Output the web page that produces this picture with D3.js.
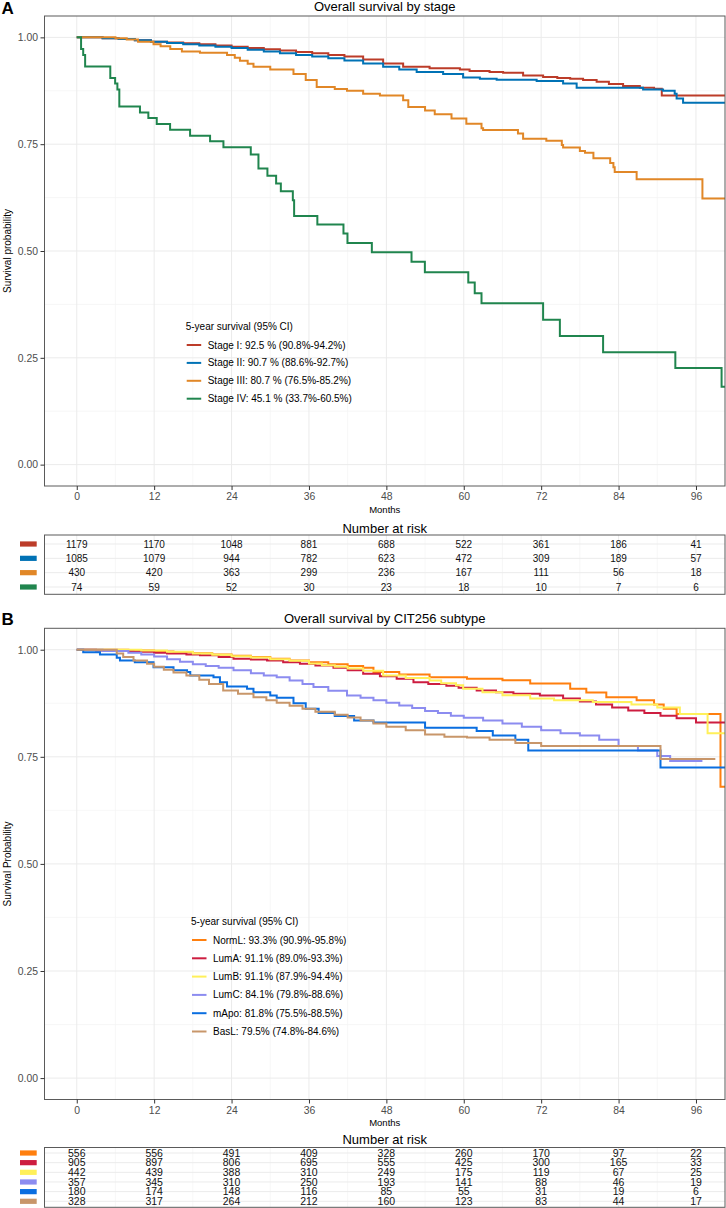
<!DOCTYPE html>
<html><head><meta charset="utf-8">
<script src="https://cdn.jsdelivr.net/npm/d3@7"></script>
<style>
body{margin:0;background:#fff}
svg{display:block}
text{font-family:"Liberation Sans",Arial,Helvetica,sans-serif}
</style>
</head><body>
<svg id="c" width="726" height="1208"></svg>
<script>
// ---------------- DATA ----------------
const monthTicks = [0, 12, 24, 36, 48, 60, 72, 84, 96];
const survTicks = [0, 0.25, 0.5, 0.75, 1];

// Panel A: stage
const stageNames = ["Stage I", "Stage II", "Stage III", "Stage IV"];
const stageColors = ["#BC3C29", "#0072B5", "#E18727", "#20854E"];
const stageLegend = ["Stage I: 92.5 % (90.8%-94.2%)", "Stage II: 90.7 % (88.6%-92.7%)",
                     "Stage III: 80.7 % (76.5%-85.2%)", "Stage IV: 45.1 % (33.7%-60.5%)"];
const stageI_time = [0, 4, 6.5, 9, 11.5, 14, 16.5, 19, 21.5, 24, 26.5, 29, 31.5, 34, 36.5, 39, 41.5, 44.4, 47.5, 50.6, 54.7, 59.4, 60.9, 64, 66.1, 69.2, 72.3, 74.5, 76.5, 78.5, 80.6, 82.5, 84.7, 87.3, 89.5, 90.7];
const stageI_surv = [1, 0.998, 0.996, 0.993, 0.99, 0.988, 0.986, 0.984, 0.981, 0.978, 0.975, 0.972, 0.969, 0.966, 0.963, 0.959, 0.955, 0.948, 0.939, 0.931, 0.928, 0.925, 0.921, 0.919, 0.917, 0.911, 0.907, 0.905, 0.903, 0.9, 0.896, 0.891, 0.886, 0.882, 0.88, 0.864];
const stageII_time = [0, 4, 6.5, 9, 11.5, 14, 16.5, 19, 21.5, 24, 26.5, 29, 31.5, 34, 36.5, 39, 41.5, 44.4, 47.5, 50, 52.7, 56.8, 59.9, 62.5, 65.1, 71.3, 75.4, 77.5, 87.8, 90.9, 92.7, 93.0, 94.0];
const stageII_surv = [1, 0.998, 0.996, 0.993, 0.99, 0.987, 0.984, 0.981, 0.978, 0.975, 0.971, 0.967, 0.963, 0.959, 0.955, 0.951, 0.946, 0.939, 0.931, 0.925, 0.919, 0.914, 0.906, 0.903, 0.901, 0.898, 0.892, 0.882, 0.878, 0.875, 0.868, 0.857, 0.847];
const stageIII_time = [0, 6, 7.75, 9.5, 11.9, 13, 14.5, 16.3, 19.1, 23.3, 24.5, 25.3, 26.5, 27.4, 30, 33.6, 35.5, 37.2, 40, 41.9, 44.4, 47, 50.6, 51.4, 54, 55.5, 58.1, 60.4, 62.75, 63.0, 68.4, 69.2, 72.8, 75.2, 75.4, 78.0, 78.8, 80.1, 82.7, 83.2, 83.4, 86.8, 97.0];
const stageIII_surv = [1, 0.998, 0.995, 0.99, 0.984, 0.979, 0.973, 0.967, 0.964, 0.959, 0.952, 0.945, 0.938, 0.931, 0.925, 0.914, 0.9, 0.884, 0.879, 0.875, 0.868, 0.864, 0.853, 0.837, 0.829, 0.82, 0.81, 0.798, 0.787, 0.783, 0.775, 0.763, 0.758, 0.748, 0.742, 0.734, 0.73, 0.717, 0.706, 0.696, 0.685, 0.668, 0.623];
const stageIV_time = [0, 0.67, 1.0, 1.3, 5.2, 5.95, 6.3, 6.6, 9.8, 11.1, 12.4, 14.47, 17.57, 20.67, 22.74, 26.98, 28.17, 29.56, 30.91, 31.64, 33.5, 33.7, 37.3, 41.35, 41.97, 45.75, 51.9, 53.97, 60.7, 61.7, 62.75, 72.3, 74.9, 81.6, 92.8, 99.97];
const stageIV_surv = [1, 0.973, 0.959, 0.932, 0.905, 0.892, 0.878, 0.838, 0.824, 0.811, 0.797, 0.784, 0.770, 0.757, 0.743, 0.726, 0.693, 0.676, 0.658, 0.640, 0.619, 0.582, 0.562, 0.541, 0.519, 0.497, 0.475, 0.450, 0.426, 0.401, 0.378, 0.339, 0.301, 0.263, 0.226, 0.182];
const stageLastFollowUp = [101, 101, 101, 101];
const riskStage = [
  [1179, 1170, 1048, 881, 688, 522, 361, 186, 41],
  [1085, 1079, 944, 782, 623, 472, 309, 189, 57],
  [430, 420, 363, 299, 236, 167, 111, 56, 18],
  [74, 59, 52, 30, 23, 18, 10, 7, 6]
];

// Panel B: CIT256 subtype
const subNames = ["NormL", "LumA", "LumB", "LumC", "mApo", "BasL"];
const subColors = ["#FF7F0E", "#CD1D40", "#FFF05A", "#8C8CF0", "#0A6EE0", "#C8966A"];
const subLegend = ["NormL: 93.3% (90.9%-95.8%)", "LumA: 91.1% (89.0%-93.3%)", "LumB: 91.1% (87.9%-94.4%)",
                   "LumC: 84.1% (79.8%-88.6%)", "mApo: 81.8% (75.5%-88.5%)", "BasL: 79.5% (74.8%-84.6%)"];
const normL_time = [0, 8, 12, 15, 18, 21, 24, 27, 30, 33, 36, 39, 42, 44.4, 46, 50, 54.7, 60.5, 66, 70.3, 76.5, 79, 82.1, 86.8, 89.5, 91, 93, 99.8];
const normL_surv = [1, 0.998, 0.996, 0.994, 0.992, 0.989, 0.986, 0.983, 0.979, 0.975, 0.971, 0.966, 0.962, 0.958, 0.948, 0.942, 0.936, 0.932, 0.929, 0.921, 0.909, 0.9, 0.889, 0.882, 0.872, 0.862, 0.85, 0.68];
const lumA_time = [0, 3, 6, 8.8, 12, 14, 17, 19.1, 22, 24.3, 27, 29.5, 32, 34.6, 37, 39.8, 42, 44.4, 47, 49.6, 52.2, 54.5, 57.3, 59.2, 62, 65, 67.7, 71.8, 75.4, 78, 80.5, 83, 85.5, 88, 90.5, 93, 96];
const lumA_surv = [1, 0.998, 0.997, 0.995, 0.993, 0.991, 0.989, 0.987, 0.983, 0.979, 0.977, 0.975, 0.971, 0.967, 0.963, 0.958, 0.952, 0.944, 0.938, 0.932, 0.924, 0.92, 0.916, 0.911, 0.905, 0.901, 0.897, 0.893, 0.886, 0.879, 0.872, 0.865, 0.858, 0.852, 0.846, 0.84, 0.83];
const lumB_time = [0, 10, 14, 18, 21, 24, 27, 30, 33, 36, 38, 40, 42, 44.4, 47.5, 51, 54.7, 56.5, 58.8, 59.9, 62.9, 66, 70.3, 74, 80, 86, 90, 93.5, 97.8];
const lumB_surv = [1, 0.998, 0.995, 0.991, 0.988, 0.985, 0.982, 0.978, 0.974, 0.968, 0.964, 0.96, 0.956, 0.951, 0.94, 0.934, 0.928, 0.922, 0.917, 0.909, 0.901, 0.894, 0.886, 0.882, 0.878, 0.872, 0.865, 0.85, 0.805];
const lumC_time = [0, 4, 8, 10, 12, 14, 16, 18, 20, 22, 24.3, 27, 29, 31, 33, 35, 36.7, 39, 41.9, 44, 46, 48, 50, 52, 54, 56, 58, 60, 63, 66, 69, 72, 75, 78, 81, 84, 87, 90, 92];
const lumC_surv = [1, 0.997, 0.993, 0.989, 0.984, 0.978, 0.972, 0.966, 0.962, 0.958, 0.952, 0.945, 0.94, 0.936, 0.928, 0.92, 0.913, 0.904, 0.893, 0.888, 0.882, 0.876, 0.87, 0.864, 0.857, 0.852, 0.846, 0.841, 0.835, 0.828, 0.82, 0.812, 0.805, 0.8, 0.79, 0.775, 0.765, 0.752, 0.74];
const mApo_time = [0, 1, 3.6, 6.2, 6.7, 9, 11.9, 15, 17.1, 17.6, 21.2, 22.2, 23.3, 26.4, 27.4, 30, 31, 33.6, 35.5, 37.5, 40, 43, 46, 54, 62, 64.5, 68, 70, 90.5];
const mApo_surv = [1, 0.994, 0.989, 0.981, 0.975, 0.971, 0.959, 0.952, 0.948, 0.94, 0.936, 0.924, 0.914, 0.909, 0.901, 0.893, 0.888, 0.875, 0.862, 0.852, 0.845, 0.835, 0.83, 0.818, 0.81, 0.80, 0.79, 0.765, 0.725];
const basL_time = [0, 6.2, 7.2, 8.8, 10.9, 12, 13.5, 15, 17, 19, 20.5, 22.7, 25, 27.4, 29.4, 31, 33, 35, 37, 40, 42, 44, 46, 48, 51, 54, 57, 60.5, 64, 68, 72, 90.5];
const basL_surv = [1, 0.991, 0.983, 0.975, 0.967, 0.96, 0.953, 0.947, 0.94, 0.93, 0.92, 0.905, 0.897, 0.889, 0.882, 0.876, 0.869, 0.862, 0.855, 0.848, 0.842, 0.835, 0.828, 0.82, 0.812, 0.802, 0.797, 0.795, 0.79, 0.782, 0.775, 0.745];
const subLastFollowUp = [101, 101, 101, 97, 101, 99];
const riskSub = [
  [556, 556, 491, 409, 328, 260, 170, 97, 22],
  [905, 897, 806, 695, 555, 425, 300, 165, 33],
  [442, 439, 388, 310, 249, 175, 119, 67, 25],
  [357, 345, 310, 250, 193, 141, 88, 46, 19],
  [180, 174, 148, 116, 85, 55, 31, 19, 6],
  [328, 317, 264, 212, 160, 123, 83, 44, 17]
];

// ---------------- DRAW ----------------
const svg = d3.select("#c");
const PL = 44.5, PR = 725;
const x = d3.scaleLinear().domain([-5, 100.5]).range([PL, PR]);
const minorX = [6, 18, 30, 42, 54, 66, 78, 90];
const minorY = [0.125, 0.375, 0.625, 0.875];
const MAJ = "#EBEBEB", MIN = "#F3F3F3", BORDER = "#5a5a5a";

function makeSeries(times, survs, ends) {
  return times.map((t, i) => {
    const pts = t.map((tt, j) => [tt, survs[i][j]]);
    pts.push([ends[i], survs[i][survs[i].length - 1]]);
    return pts;
  });
}

function panel(o) {
  const y = d3.scaleLinear().domain([-0.05, 1.05]).range([o.bottom, o.top]);
  const g = svg.append("g");
  g.append("text").attr("x", 1.5).attr("y", o.letterBase).attr("font-size", 17)
    .attr("font-weight", "bold").text(o.letter);
  g.append("text").attr("x", (PL + PR) / 2).attr("y", o.titleBase).attr("text-anchor", "middle")
    .attr("font-size", 13).text(o.title);

  // grid
  const grid = g.append("g");
  grid.selectAll(".mx").data(minorX).enter().append("line")
    .attr("x1", d => x(d)).attr("x2", d => x(d)).attr("y1", o.top).attr("y2", o.bottom)
    .attr("stroke", MIN).attr("stroke-width", 0.7);
  grid.selectAll(".my").data(minorY).enter().append("line")
    .attr("x1", PL).attr("x2", PR).attr("y1", d => y(d)).attr("y2", d => y(d))
    .attr("stroke", MIN).attr("stroke-width", 0.7);
  grid.selectAll(".Mx").data(monthTicks).enter().append("line")
    .attr("x1", d => x(d)).attr("x2", d => x(d)).attr("y1", o.top).attr("y2", o.bottom)
    .attr("stroke", MAJ).attr("stroke-width", 1);
  grid.selectAll(".My").data(survTicks).enter().append("line")
    .attr("x1", PL).attr("x2", PR).attr("y1", d => y(d)).attr("y2", d => y(d))
    .attr("stroke", MAJ).attr("stroke-width", 1);

  // curves
  const cid = "clip" + o.letter;
  svg.append("clipPath").attr("id", cid).append("rect")
    .attr("x", PL).attr("y", o.top).attr("width", PR - PL).attr("height", o.bottom - o.top);
  const line = d3.line().x(d => x(d[0])).y(d => y(d[1])).curve(d3.curveStepAfter);
  g.append("g").attr("clip-path", `url(#${cid})`).selectAll("path").data(o.series).enter()
    .append("path").attr("d", line).attr("fill", "none")
    .attr("stroke", (d, i) => o.colors[i]).attr("stroke-width", 2)
    .attr("stroke-linejoin", "miter");

  g.append("rect").attr("x", PL).attr("y", o.top).attr("width", PR - PL).attr("height", o.bottom - o.top)
    .attr("fill", "none").attr("stroke", BORDER).attr("stroke-width", 1);

  // axes
  const ya = g.append("g").attr("transform", `translate(${PL},0)`)
    .call(d3.axisLeft(y).tickValues(survTicks).tickFormat(d3.format(".2f")).tickSize(4).tickPadding(2.5));
  const xa = g.append("g").attr("transform", `translate(0,${o.bottom})`)
    .call(d3.axisBottom(x).tickValues(monthTicks).tickSize(4).tickPadding(3));
  [ya, xa].forEach(a => {
    a.select(".domain").remove();
    a.selectAll(".tick line").attr("stroke", "#333");
    a.selectAll(".tick text").attr("font-size", 10.4).attr("fill", "#4D4D4D")
      .attr("font-family", '"Liberation Sans",Arial,sans-serif');
  });

  g.append("text").attr("transform", `translate(11,${(o.top + o.bottom) / 2}) rotate(-90)`)
    .attr("text-anchor", "middle").attr("font-size", 10).text(o.ylabel);
  g.append("text").attr("x", (PL + PR) / 2).attr("y", o.bottom + 26.5).attr("text-anchor", "middle")
    .attr("font-size", 9.5).text("Months");

  // legend
  const lg = g.append("g");
  lg.append("text").attr("x", o.legend.x).attr("y", o.legend.titleY + 3.5).attr("font-size", 10)
    .text("5-year survival (95% CI)");
  o.legendLabels.forEach((lab, i) => {
    const cy = o.legend.y0 + i * o.legend.dy;
    lg.append("line").attr("x1", o.legend.x + 1).attr("x2", o.legend.x + 15.5)
      .attr("y1", cy).attr("y2", cy).attr("stroke", o.colors[i]).attr("stroke-width", 2);
    lg.append("text").attr("x", o.legend.x + 22).attr("y", cy + 3.5).attr("font-size", 10).text(lab);
  });

  // risk table
  const r = o.risk;
  g.append("text").attr("x", (PL + PR) / 2).attr("y", r.titleBase).attr("text-anchor", "middle")
    .attr("font-size", 13).text("Number at risk");
  const ry = d3.scalePoint().domain(d3.range(o.riskData.length)).range([r.first, r.last]);
  const rt = g.append("g");
  rt.selectAll(".rmx").data(minorX).enter().append("line")
    .attr("x1", d => x(d)).attr("x2", d => x(d)).attr("y1", r.top).attr("y2", r.bottom)
    .attr("stroke", MIN).attr("stroke-width", 0.7);
  rt.selectAll(".rMx").data(monthTicks).enter().append("line")
    .attr("x1", d => x(d)).attr("x2", d => x(d)).attr("y1", r.top).attr("y2", r.bottom)
    .attr("stroke", MAJ).attr("stroke-width", 1);
  rt.selectAll(".rMy").data(d3.range(o.riskData.length)).enter().append("line")
    .attr("x1", PL).attr("x2", PR).attr("y1", d => ry(d)).attr("y2", d => ry(d))
    .attr("stroke", MAJ).attr("stroke-width", 1);
  o.riskData.forEach((row, i) => {
    rt.selectAll(null).data(row).enter().append("text")
      .attr("x", (d, j) => x(monthTicks[j])).attr("y", ry(i)).attr("dy", "0.36em")
      .attr("text-anchor", "middle").attr("font-size", r.font).attr("fill", "#111").text(d => d);
    rt.append("rect").attr("x", 20).attr("y", ry(i) - 2.6).attr("width", 16.7).attr("height", 5.2)
      .attr("fill", o.colors[i]);
  });
  rt.append("rect").attr("x", PL).attr("y", r.top).attr("width", PR - PL).attr("height", r.bottom - r.top)
    .attr("fill", "none").attr("stroke", BORDER).attr("stroke-width", 1);
}

panel({
  letter: "A", letterBase: 14, title: "Overall survival by stage", titleBase: 10.8,
  top: 16, bottom: 486, ylabel: "Survival probability",
  colors: stageColors, legendLabels: stageLegend,
  series: makeSeries([stageI_time, stageII_time, stageIII_time, stageIV_time],
                     [stageI_surv, stageII_surv, stageIII_surv, stageIV_surv], stageLastFollowUp),
  legend: { x: 185.7, titleY: 326.7, y0: 345, dy: 17.9 },
  risk: { titleBase: 532.8, top: 535, bottom: 594.3, first: 544, last: 587, font: 10 },
  riskData: riskStage
});

panel({
  letter: "B", letterBase: 625, title: "Overall survival by CIT256 subtype", titleBase: 622.5,
  top: 628.3, bottom: 1099.5, ylabel: "Survival Probability",
  colors: subColors, legendLabels: subLegend,
  series: makeSeries([normL_time, lumA_time, lumB_time, lumC_time, mApo_time, basL_time],
                     [normL_surv, lumA_surv, lumB_surv, lumC_surv, mApo_surv, basL_surv], subLastFollowUp),
  legend: { x: 191, titleY: 921, y0: 940, dy: 18.3 },
  risk: { titleBase: 1143.8, top: 1147.5, bottom: 1207.3, first: 1153, last: 1201.3, font: 10.5 },
  riskData: riskSub
});
</script>
</body></html>
